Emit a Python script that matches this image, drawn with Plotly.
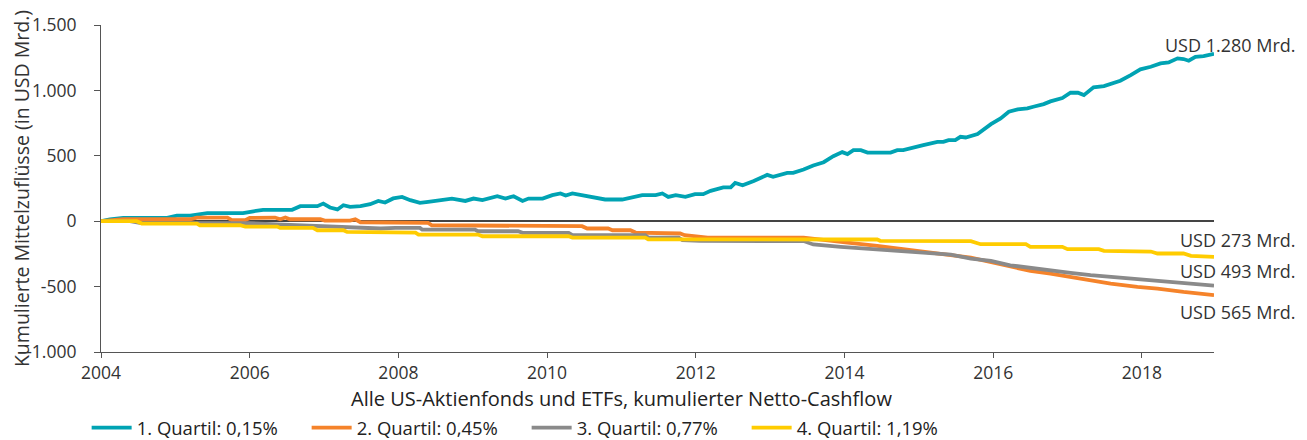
import plotly.graph_objects as go

# ---------------- data (cumulative net flows, USD bn) ----------------
q1_x = [2004.0, 2004.12, 2004.30, 2004.89, 2005.02, 2005.20, 2005.43, 2005.91, 2006.05, 2006.18,
        2006.57, 2006.68, 2006.91, 2006.99, 2007.08, 2007.18, 2007.26, 2007.35, 2007.49, 2007.62,
        2007.73, 2007.82, 2007.93, 2008.05, 2008.16, 2008.29, 2008.40, 2008.54, 2008.72, 2008.90,
        2009.01, 2009.13, 2009.33, 2009.44, 2009.55, 2009.67, 2009.75, 2009.94, 2010.07, 2010.18,
        2010.25, 2010.34, 2010.47, 2010.65, 2010.78, 2011.01, 2011.15, 2011.28, 2011.46, 2011.55,
        2011.63, 2011.73, 2011.86, 2011.99, 2012.10, 2012.20, 2012.37, 2012.47, 2012.53, 2012.63,
        2012.78, 2012.96, 2013.04, 2013.23, 2013.31, 2013.45, 2013.58, 2013.72, 2013.85, 2013.97,
        2014.04, 2014.12, 2014.22, 2014.31, 2014.62, 2014.71, 2014.79, 2014.98, 2015.06, 2015.25,
        2015.33, 2015.40, 2015.49, 2015.56, 2015.63, 2015.79, 2015.87, 2015.97, 2016.10, 2016.21,
        2016.33, 2016.46, 2016.54, 2016.68, 2016.77, 2016.93, 2017.04, 2017.14, 2017.22, 2017.35,
        2017.49, 2017.71, 2017.85, 2017.98, 2018.12, 2018.25, 2018.36, 2018.48, 2018.56, 2018.63,
        2018.72, 2018.83, 2018.97]
q1_y = [0, 13, 25, 25, 43, 43, 61, 61, 76, 87,
        87, 115, 115, 135, 105, 90, 122, 110, 115, 130,
        155, 143, 174, 186, 161, 140, 148, 161, 173, 155,
        173, 161, 191, 173, 191, 155, 173, 173, 199, 212,
        196, 212, 199, 181, 166, 166, 186, 199, 199, 212,
        186, 199, 186, 207, 207, 232, 258, 258, 293, 275,
        308, 354, 339, 370, 370, 395, 426, 451, 497, 528,
        513, 543, 543, 525, 525, 543, 543, 574, 582, 607,
        607, 620, 620, 645, 640, 666, 701, 742, 786, 837,
        855, 862, 875, 895, 916, 941, 982, 982, 964, 1023,
        1033, 1074, 1117, 1161, 1181, 1206, 1214, 1245, 1240, 1227,
        1257, 1262, 1280]

q2_x = [2004.0, 2004.30, 2005.20, 2005.29, 2005.70, 2005.76, 2005.94, 2006.00, 2006.34, 2006.41,
        2006.48, 2006.54, 2006.95, 2007.01, 2007.35, 2007.42, 2007.49, 2007.82, 2008.40, 2008.45,
        2009.44, 2009.50, 2010.47, 2010.54, 2010.82, 2010.88, 2011.12, 2011.19, 2011.50, 2011.55,
        2011.79, 2011.85, 2012.06, 2012.16, 2013.45, 2013.72, 2014.04, 2014.44, 2014.79, 2015.06,
        2015.43, 2015.70, 2015.97, 2016.23, 2016.50, 2016.77, 2017.04, 2017.31, 2017.58, 2017.94,
        2018.21, 2018.56, 2018.97]
q2_y = [0, 15, 15, 28, 28, 8, 8, 25, 28, 15,
        28, 15, 15, 5, 5, 15, -8, -10, -13, -31,
        -31, -38, -38, -56, -56, -69, -69, -87, -87, -94,
        -94, -107, -115, -125, -125, -145, -163, -189, -214, -240,
        -260, -278, -311, -349, -380, -400, -426, -446, -477, -502,
        -515, -541, -565]

q3_x = [2004.0, 2004.39, 2004.52, 2006.00, 2006.37, 2006.99, 2007.76, 2007.96, 2008.29, 2008.32,
        2009.03, 2009.07, 2009.61, 2009.67, 2010.29, 2010.34, 2011.32, 2011.36, 2011.77, 2011.82,
        2012.06, 2013.45, 2013.58, 2013.95, 2014.26, 2014.52, 2014.89, 2015.06, 2015.43, 2015.70,
        2015.97, 2016.23, 2016.50, 2016.77, 2017.04, 2017.31, 2017.58, 2017.94, 2018.21, 2018.56,
        2018.97]
q3_y = [0, 0, -13, -15, -25, -38, -56, -51, -51, -64,
        -64, -77, -77, -89, -89, -107, -107, -125, -125, -145,
        -150, -152, -178, -196, -209, -222, -235, -245, -255, -286,
        -303, -337, -354, -375, -395, -413, -426, -446, -457, -469,
        -493]

q4_x = [2004.0, 2004.48, 2004.55, 2005.29, 2005.33, 2005.87, 2005.94, 2006.37, 2006.41, 2006.85,
        2006.91, 2007.26, 2007.31, 2007.66, 2007.71, 2008.23, 2008.27, 2009.07, 2009.13, 2010.29,
        2010.34, 2011.32, 2011.36, 2013.45, 2014.44, 2014.48, 2015.70, 2015.83, 2016.44, 2016.50,
        2016.93, 2017.00, 2017.42, 2017.49, 2018.12, 2018.21, 2018.56, 2018.66, 2018.97]
q4_y = [0, 0, -18, -18, -31, -31, -41, -41, -51, -51,
        -69, -69, -82, -82, -89, -87, -102, -102, -115, -115,
        -125, -125, -138, -138, -140, -150, -153, -176, -176, -196,
        -196, -214, -214, -227, -232, -247, -247, -265, -273]

series_names = ["1. Quartil: 0,15%", "2. Quartil: 0,45%", "3. Quartil: 0,77%", "4. Quartil: 1,19%"]
series_colors = ["#00A3B3", "#F5832A", "#8A8A8A", "#FFCC00"]

y_tickvals = [-1000, -500, 0, 500, 1000, 1500]
y_ticktext = ["-1.000", "-500", "0", "500", "1.000", "1.500"]
x_tickvals = [2004, 2006, 2008, 2010, 2012, 2014, 2016, 2018]

end_labels = ["USD 1.280 Mrd.", "USD 565 Mrd.", "USD 493 Mrd.", "USD 273 Mrd."]
end_label_shift = [9, -17, 15, 17]

x_title = "Alle US-Aktienfonds und ETFs, kumulierter Netto-Cashflow"
y_title = "Kumulierte Mittelzuflüsse (in USD Mrd.)"

# ---------------- figure ----------------
# (the page body adds an 8px margin, so the figure is 8px smaller on each axis)
MAIN_FONT = "Open Sans, Liberation Sans, Arial, sans-serif"
COND_FONT = "Open Sans, sans-serif"
TEXT = "#333333"

fig = go.Figure()
xs = [q1_x, q2_x, q3_x, q4_x]
ys = [q1_y, q2_y, q3_y, q4_y]
for xx, yy, name, col in zip(xs, ys, series_names, series_colors):
    fig.add_trace(go.Scatter(x=xx, y=yy, mode="lines", name=name,
                             line=dict(color=col, width=3.8), hoverinfo="x+y+name"))

for xx, yy, lab, sh in zip(xs, ys, end_labels, end_label_shift):
    fig.add_annotation(x=xx[-1], y=yy[-1], xref="x", yref="y", text=lab, showarrow=False,
                       xanchor="right", yanchor="middle", xshift=84, yshift=sh,
                       font=dict(family=MAIN_FONT, size=18, color=TEXT))

fig.add_annotation(x=0.468, y=-0.1437, xref="paper", yref="paper", text=x_title, showarrow=False,
                   xanchor="center", yanchor="middle",
                   font=dict(family=COND_FONT, size=20, color="#222222"))

fig.update_layout(
    width=1299, height=432,
    margin=dict(l=93, r=93, t=17, b=88, autoexpand=False),
    paper_bgcolor="white", plot_bgcolor="white",
    font=dict(family=MAIN_FONT, size=17, color=TEXT),
    showlegend=True,
    legend=dict(orientation="h", x=-0.0129, xanchor="left", y=-0.233, yanchor="middle",
                font=dict(family=COND_FONT, size=18.5, color="#222222"),
                itemwidth=40, entrywidth=165, entrywidthmode="pixels",
                tracegroupgap=0, bgcolor="rgba(0,0,0,0)"),
    xaxis=dict(range=[2004, 2018.97], tickvals=x_tickvals, showgrid=False, zeroline=False,
               showline=True, linecolor="#555555", linewidth=1, ticks="outside", ticklen=5,
               tickcolor="#555555", tickfont=dict(size=17.5, color=TEXT), ticklabelstandoff=0),
    yaxis=dict(range=[-1000, 1500], tickvals=y_tickvals, ticktext=y_ticktext, showgrid=False,
               zeroline=True, zerolinecolor="#444444", zerolinewidth=1.5,
               showline=True, linecolor="#555555", linewidth=1, ticks="outside", ticklen=6,
               tickcolor="#555555", tickfont=dict(size=17.5, color=TEXT), ticklabelstandoff=14,
               title=dict(text=y_title, standoff=2, font=dict(size=19.5, color=TEXT))),
)

fig.write_html("out.html")
